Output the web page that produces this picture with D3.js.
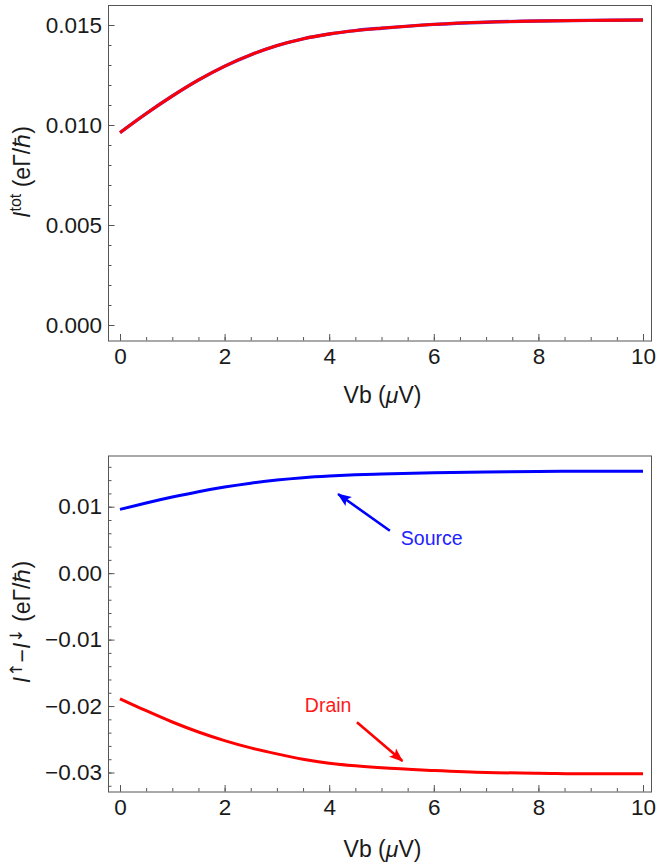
<!DOCTYPE html>
<html>
<head>
<meta charset="utf-8">
<script src="https://cdn.jsdelivr.net/npm/d3@7"></script>
<style>
  body { margin: 0; background: #fff; }
  svg { display: block; font-family: "Liberation Sans", Arial, sans-serif; }
  .tick text { font-size: 22.5px; fill: #1a1a1a; }
  .tick line { stroke: #555; }
</style>
</head>
<body>
<svg id="chart" width="656" height="865"></svg>
<script>
// bias voltage samples (µV)
var vb = [0, 0.5, 1, 1.5, 2, 2.5, 3, 3.5, 4, 4.5, 5, 6, 7, 8, 9, 10];
// total current (top panel)
var iTot = [0.00962, 0.01057, 0.01145, 0.01225, 0.01294, 0.01351, 0.01397, 0.01431,
            0.01455, 0.01472, 0.01484, 0.01503, 0.01514, 0.01520, 0.01523, 0.01525];
// spin current, source lead
var iSource = [0.00960, 0.01056, 0.01145, 0.01226, 0.01296, 0.01354, 0.01401, 0.01436,
               0.01461, 0.01479, 0.01492, 0.01512, 0.01524, 0.01530, 0.01533, 0.01534];
// spin current, drain lead
var iDrain = [-0.0189, -0.0207, -0.0224, -0.0239, -0.0252, -0.0263, -0.0272, -0.0280,
              -0.0286, -0.0290, -0.0293, -0.0297, -0.0300, -0.0301, -0.0302, -0.0302];

var xMajor = [0, 2, 4, 6, 8, 10];
var xMinor = d3.range(0, 10.01, 0.5);
var yTopMajor = [0, 0.005, 0.010, 0.015];
var yTopMinor = d3.range(0, 0.0161, 0.001);
var yBotMajor = [-0.03, -0.02, -0.01, 0, 0.01];
var yBotMinor = d3.range(-0.032, 0.0171, 0.002);

var svg = d3.select("#chart");

// frame boxes
var frameL = 108, frameR = 651;
var x = d3.scaleLinear().domain([0, 10]).range([120, 643]);

function panel(top, bottom, y, major, minor, fmt) {
  var g = svg.append("g");
  // minor ticks
  g.append("g").attr("transform", "translate(0," + bottom + ")")
    .call(d3.axisBottom(x).tickValues(xMinor).tickSize(-3.5).tickFormat(""))
    .select(".domain").remove();
  g.append("g").attr("transform", "translate(" + frameL + ",0)")
    .call(d3.axisLeft(y).tickValues(minor.filter(function(v){ return y(v) > top + 1 && y(v) < bottom - 1; }))
      .tickSize(-3.5).tickFormat(""))
    .select(".domain").remove();
  // major ticks + labels
  var xa = g.append("g").attr("transform", "translate(0," + bottom + ")")
    .call(d3.axisBottom(x).tickValues(xMajor).tickSize(-6.5).tickPadding(8).tickFormat(d3.format("d")));
  xa.select(".domain").remove();
  var ya = g.append("g").attr("transform", "translate(" + frameL + ",0)")
    .call(d3.axisLeft(y).tickValues(major).tickSize(-6.5).tickPadding(6).tickFormat(fmt));
  ya.select(".domain").remove();
  g.append("rect")
    .attr("x", frameL + 0.5).attr("y", top + 0.5)
    .attr("width", frameR - frameL).attr("height", bottom - top)
    .attr("fill", "none").attr("stroke", "#555").attr("stroke-width", 1);
  return g;
}

function xLabel(yPos) {
  var t = svg.append("text")
    .attr("x", x(5) + 1).attr("y", yPos)
    .attr("text-anchor", "middle")
    .attr("font-size", 23).attr("fill", "#1a1a1a");
  t.append("tspan").text("Vb (");
  t.append("tspan").attr("font-style", "italic").text("\u03bc");
  t.append("tspan").text("V)");
}

var line = function(y) {
  return d3.line().x(function(d, i){ return x(vb[i]); })
    .y(function(d){ return y(d); }).curve(d3.curveMonotoneX);
};

// ---------- top panel ----------
var yTop = d3.scaleLinear().domain([0, 0.015]).range([325, 25]);
panel(5, 340.5, yTop, yTopMajor, yTopMinor, d3.format(".3f"));

svg.append("path").datum(iTot)
  .attr("d", line(yTop)).attr("fill", "none")
  .attr("stroke", "#6a2ad0").attr("stroke-width", 3.4);
svg.append("path").datum(iTot)
  .attr("d", line(yTop)).attr("fill", "none")
  .attr("stroke", "#ff0000").attr("stroke-width", 2.8);

xLabel(403);

var yl1 = svg.append("text")
  .attr("transform", "translate(30," + 172 + ") rotate(-90)")
  .attr("text-anchor", "middle").attr("font-size", 23).attr("fill", "#1a1a1a");
yl1.append("tspan").attr("font-style", "italic").text("I");
yl1.append("tspan").attr("font-size", 16).attr("dy", -9).text("tot");
yl1.append("tspan").attr("dy", 9).text(" (e\u0393/\u210f)");

// ---------- bottom panel ----------
var yBot = d3.scaleLinear().domain([-0.03, 0.01]).range([772.5, 506.7]);
panel(455.5, 791.5, yBot, yBotMajor, yBotMinor, d3.format(".2f"));

svg.append("path").datum(iSource)
  .attr("d", line(yBot)).attr("fill", "none")
  .attr("stroke", "#0000ff").attr("stroke-width", 3);
svg.append("path").datum(iDrain)
  .attr("d", line(yBot)).attr("fill", "none")
  .attr("stroke", "#ff0000").attr("stroke-width", 3);

xLabel(857);

var yl2 = svg.append("text")
  .attr("transform", "translate(30," + 622 + ") rotate(-90)")
  .attr("text-anchor", "middle").attr("font-size", 23).attr("fill", "#1a1a1a");
yl2.append("tspan").attr("font-style", "italic").text("I");
yl2.append("tspan").attr("font-size", 17).attr("font-family", "DejaVu Sans").attr("dy", -8).text("\u2191");
yl2.append("tspan").attr("dy", 8).text("\u2212");
yl2.append("tspan").attr("font-style", "italic").text("I");
yl2.append("tspan").attr("font-size", 17).attr("font-family", "DejaVu Sans").attr("dy", -8).text("\u2193");
yl2.append("tspan").attr("dy", 8).text(" (e\u0393/\u210f)");

// ---------- annotations ----------
var defs = svg.append("defs");
[["arrBlue", "#0000ff"], ["arrRed", "#ff0000"]].forEach(function(m) {
  defs.append("marker").attr("id", m[0])
    .attr("viewBox", "0 -6 14 12").attr("refX", 13).attr("refY", 0)
    .attr("markerWidth", 14).attr("markerHeight", 12)
    .attr("markerUnits", "userSpaceOnUse").attr("orient", "auto")
    .append("path").attr("d", "M0,-5.5L14,0L0,5.5L3,0Z").attr("fill", m[1]);
});

var notes = [
  { label: "Source", color: "#2222ff", stroke: "#0000ff", marker: "arrBlue", tx: 5.96, ty: 0.00424,
    from: [5.16, 0.00639], to: [4.17, 0.01191] },
  { label: "Drain", color: "#ff1a1a", stroke: "#ff0000", marker: "arrRed", tx: 3.98, ty: -0.0209,
    from: [4.53, -0.02245], to: [5.40, -0.02827] }
];
notes.forEach(function(n) {
  svg.append("line")
    .attr("x1", x(n.from[0])).attr("y1", yBot(n.from[1]))
    .attr("x2", x(n.to[0])).attr("y2", yBot(n.to[1]))
    .attr("stroke", n.stroke)
    .attr("stroke-width", 2.6).attr("marker-end", "url(#" + n.marker + ")");
  svg.append("text").attr("x", x(n.tx)).attr("y", yBot(n.ty))
    .attr("text-anchor", "middle").attr("font-size", 19.5)
    .attr("fill", n.color).text(n.label);
});
</script>
</body>
</html>
